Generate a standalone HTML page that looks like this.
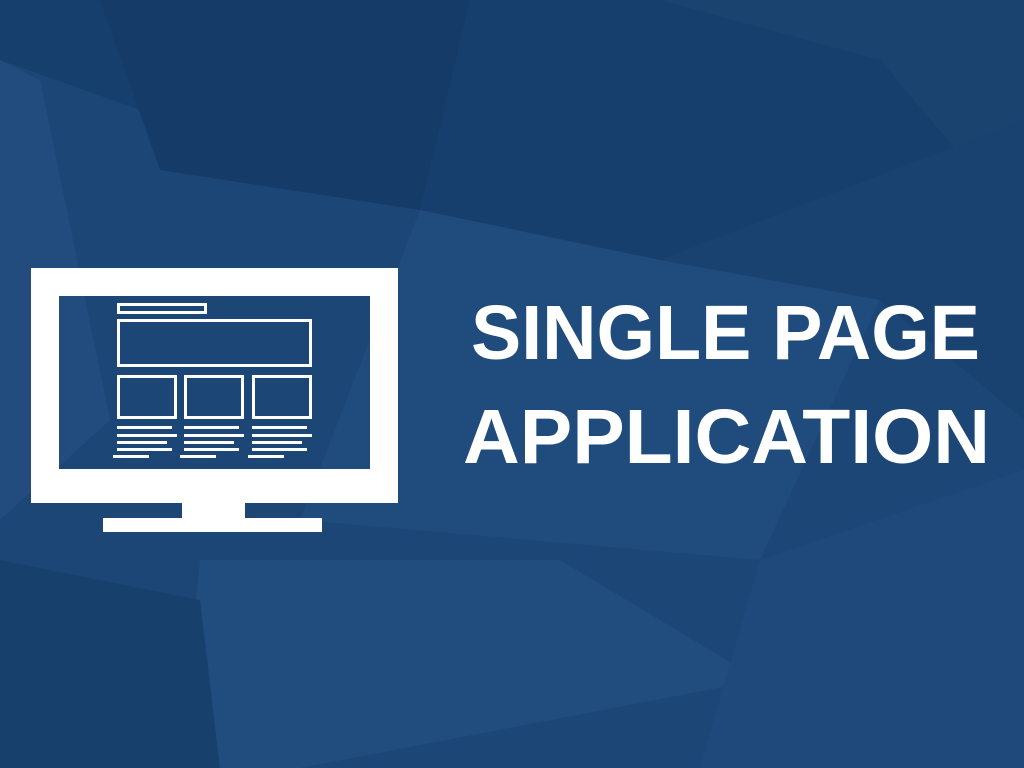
<!DOCTYPE html>
<html><head><meta charset="utf-8"><style>
html,body{margin:0;padding:0;width:1024px;height:768px;overflow:hidden;background:#1d4779}
</style></head><body>
<svg width="1024" height="768" viewBox="0 0 1024 768" xmlns="http://www.w3.org/2000/svg">
<rect width="1024" height="768" fill="#1c4676"/>
<polygon points="0,0 1024,0 1024,120 660,260 420,210 0,60" fill="#173f6d"/>
<polygon points="100,0 470,0 420,210 160,170" fill="#153c69"/>
<polygon points="660,0 1024,0 1024,230 880,60" fill="#1a4370"/>
<polygon points="660,260 1024,120 1024,420 880,300" fill="#1a4270"/>
<polygon points="0,60 40,80 110,420 0,520" fill="#214c7d"/>
<polygon points="420,210 660,260 880,300 760,560 300,520" fill="#214d80" opacity="0.7"/>
<polygon points="200,560 560,560 760,680 300,768 180,768" fill="#234f82" opacity="0.7"/>
<polygon points="0,560 200,600 220,768 0,768" fill="#18406d"/>
<polygon points="760,560 1024,470 1024,768 700,768" fill="#1e497a"/>
<g fill="#ffffff">
<path fill-rule="evenodd" d="M31 268H398V503H31Z M59 296V469H370V296Z"/>
<rect x="182" y="500" width="63" height="20"/>
<rect x="103" y="518" width="219" height="14"/>
</g>
<g fill="none" stroke="#ffffff" stroke-width="3">
<rect x="118.5" y="304.5" width="87" height="8"/>
<rect x="118.5" y="320.5" width="192" height="45"/>
<rect x="118.5" y="376.5" width="57" height="41"/>
<rect x="185.5" y="376.5" width="57" height="41"/>
<rect x="253.5" y="376.5" width="57" height="41"/>
</g>
<g fill="#ffffff">
<rect x="117" y="426" width="55" height="3"/><rect x="117" y="434" width="60" height="3"/><rect x="117" y="441" width="50" height="3"/><rect x="117" y="448" width="55" height="3"/><rect x="113" y="455" width="36" height="3"/>
<rect x="184" y="426" width="55" height="3"/><rect x="184" y="434" width="60" height="3"/><rect x="184" y="441" width="50" height="3"/><rect x="184" y="448" width="55" height="3"/><rect x="180" y="455" width="36" height="3"/>
<rect x="252" y="426" width="55" height="3"/><rect x="252" y="434" width="60" height="3"/><rect x="252" y="441" width="50" height="3"/><rect x="252" y="448" width="55" height="3"/><rect x="248" y="455" width="36" height="3"/>
</g>
<g fill="#ffffff" font-family="'Liberation Sans', sans-serif" font-weight="bold" font-size="77">
<text x="471" y="359" textLength="509" lengthAdjust="spacingAndGlyphs">SINGLE PAGE</text>
<text x="463" y="463" textLength="527" lengthAdjust="spacingAndGlyphs">APPLICATION</text>
</g>
</svg>
</body></html>
